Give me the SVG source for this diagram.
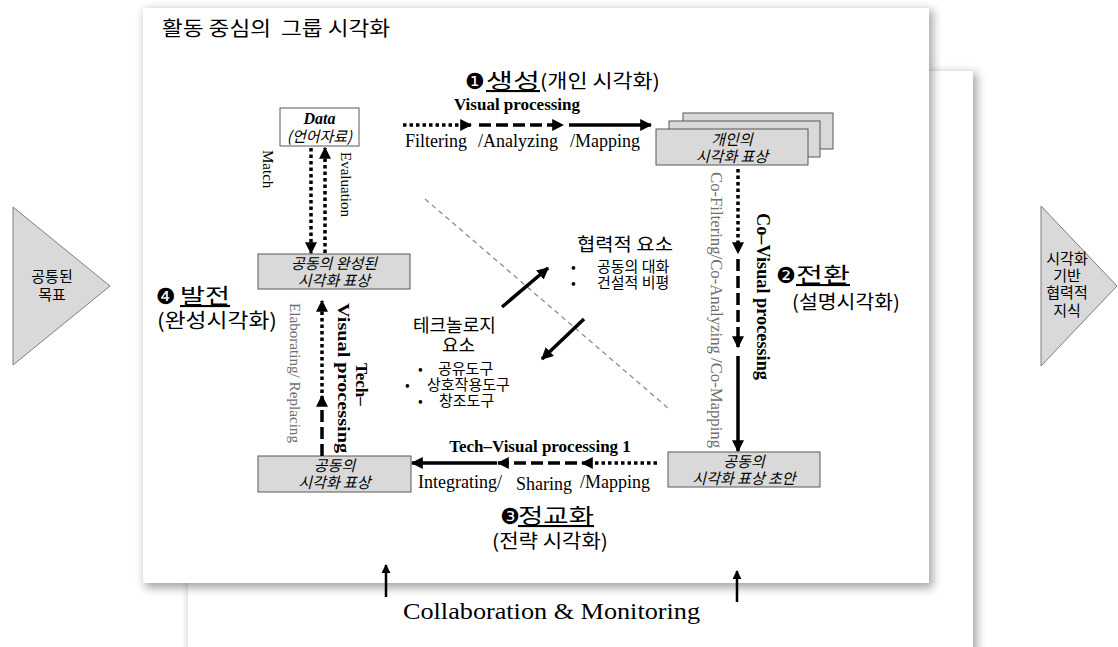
<svg xmlns="http://www.w3.org/2000/svg" width="1118" height="647" viewBox="0 0 1118 647">
<defs>
  <filter id="shadow" x="-5%" y="-5%" width="110%" height="110%">
    <feGaussianBlur stdDeviation="5"/>
  </filter>
  <marker id="ah" viewBox="0 0 10 10" refX="9" refY="5" markerWidth="12" markerHeight="12" markerUnits="userSpaceOnUse" orient="auto">
    <path d="M0,0 L10,5 L0,10 z" fill="#000"/>
  </marker>
  <marker id="ahs" viewBox="0 0 10 10" refX="9" refY="5" markerWidth="9" markerHeight="9" markerUnits="userSpaceOnUse" orient="auto">
    <path d="M0,0 L10,5 L0,10 z" fill="#000"/>
  </marker>
  <style>
    .panel { fill: #fff; }
    .pshadow { fill: #000; opacity: 0.35; filter: url(#shadow); }
    .tri { fill: #d9d9d9; stroke: #7f7f7f; stroke-width: 1; }
    .box { fill: #d9d9d9; stroke: #595959; stroke-width: 1; }
    .wbox { fill: #fff; stroke: #595959; stroke-width: 1; }
    .ln { stroke: #000; stroke-width: 3.5; fill: none; marker-end: url(#ah); }
    .dot { stroke-dasharray: 3.5 3; }
    .dash { stroke-dasharray: 12 5; }
    .thin { stroke: #000; stroke-width: 2.5; fill: none; marker-end: url(#ahs); }
    .kr { font-family: "Noto Sans CJK KR", sans-serif; fill: #000; }
    .kri { font-family: "Noto Sans CJK KR", sans-serif; font-style: italic; font-size: 15px; fill: #000; text-anchor: middle; }
    .num { font-family: "DejaVu Sans", "Noto Sans CJK KR", sans-serif; font-size: 22px; fill: #000; }
    .ser { font-family: "Liberation Serif", serif; fill: #000; }
    .serb { font-family: "Liberation Serif", serif; font-weight: bold; fill: #000; }
    .grey { fill: #6e6e6e; }
  </style>
</defs>

<!-- background sheets -->
<rect class="pshadow" x="190" y="73" width="787" height="600"/>
<rect class="panel" x="188" y="71" width="785" height="600"/>
<rect class="pshadow" x="145" y="10" width="788" height="578"/>
<rect class="panel" x="143" y="8" width="786" height="575"/>

<!-- side triangles -->
<g id="goal">
  <polygon class="tri" points="13,207 110,286 13,365"/>
  <text class="kr" font-size="15" text-anchor="middle"><tspan x="52" y="282">공통된</tspan><tspan x="52" y="300">목표</tspan></text>
</g>
<g id="knowledge">
  <polygon class="tri" points="1041,206 1117,286 1041,366"/>
  <text class="kr" font-size="15" text-anchor="middle"><tspan x="1067" y="264">시각화</tspan><tspan x="1067" y="281">기반</tspan><tspan x="1067" y="298">협력적</tspan><tspan x="1067" y="316">지식</tspan></text>
</g>

<!-- title -->
<text id="title" class="kr" x="162" y="36" font-size="20" textLength="228" lengthAdjust="spacingAndGlyphs" xml:space="preserve">활동 중심의  그룹 시각화</text>

<!-- nodes -->
<g id="data">
  <rect class="wbox" x="280" y="108" width="79" height="38"/>
  <text class="serb" x="319.5" y="124" font-size="16" font-style="italic" text-anchor="middle">Data</text>
  <text class="kri" x="319.5" y="142" font-size="14">(언어자료)</text>
</g>

<g id="individual">
  <rect class="box" x="683" y="113" width="150" height="36"/>
  <rect class="box" x="669" y="121" width="151" height="36"/>
  <rect class="box" x="656" y="129" width="152" height="36"/>
  <text class="kri"><tspan x="732" y="145">개인의</tspan><tspan x="732" y="162">시각화 표상</tspan></text>
</g>

<g id="draft">
  <rect class="box" x="668" y="452" width="152" height="35"/>
  <text class="kri"><tspan x="744" y="467">공동의</tspan><tspan x="744" y="484">시각화 표상 초안</tspan></text>
</g>

<g id="shared">
  <rect class="box" x="258" y="456" width="153" height="36"/>
  <text class="kri"><tspan x="334.5" y="471">공동의</tspan><tspan x="334.5" y="488">시각화 표상</tspan></text>
</g>

<g id="complete">
  <rect class="box" x="258" y="254" width="152" height="35"/>
  <text class="kri"><tspan x="334" y="269">공동의 완성된</tspan><tspan x="334" y="286">시각화 표상</tspan></text>
</g>

<!-- stage labels -->
<g id="stage1">
  <text class="num" x="465" y="89">❶</text>
  <text class="kr" x="486" y="88" font-size="21" text-decoration="underline" textLength="54" lengthAdjust="spacingAndGlyphs">생성</text>
  <text class="kr" x="540" y="88" font-size="19" textLength="120" lengthAdjust="spacingAndGlyphs">(개인 시각화)</text>
</g>
<g id="stage2">
  <text class="num" x="776" y="283">❷</text>
  <text class="kr" x="796" y="282" font-size="21" text-decoration="underline" textLength="54" lengthAdjust="spacingAndGlyphs">전환</text>
  <text class="kr" x="792" y="309" font-size="19" textLength="108" lengthAdjust="spacingAndGlyphs">(설명시각화)</text>
</g>
<g id="stage3">
  <text class="num" x="500" y="524">❸</text>
  <text class="kr" x="518" y="523" font-size="21" text-decoration="underline" textLength="76" lengthAdjust="spacingAndGlyphs">정교화</text>
  <text class="kr" x="492" y="548" font-size="19" textLength="116" lengthAdjust="spacingAndGlyphs">(전략 시각화)</text>
</g>
<g id="stage4">
  <text class="num" x="156" y="304">❹</text>
  <text class="kr" x="180" y="303" font-size="21" text-decoration="underline" textLength="50" lengthAdjust="spacingAndGlyphs">발전</text>
  <text class="kr" x="157" y="328" font-size="20" textLength="120" lengthAdjust="spacingAndGlyphs">(완성시각화)</text>
</g>

<!-- central elements -->
<g id="collab">
  <text class="kr" x="577" y="251" font-size="18" textLength="96" lengthAdjust="spacingAndGlyphs">협력적 요소</text>
  <text class="kr" font-size="15">
    <tspan x="571" y="272" font-size="14">•</tspan><tspan x="597" y="272">공동의 대화</tspan>
    <tspan x="571" y="288" font-size="14">•</tspan><tspan x="597" y="288">건설적 비평</tspan>
  </text>
</g>
<g id="tech">
  <text class="kr" font-size="18"><tspan x="413" y="332">테크놀로지</tspan><tspan x="442" y="352">요소</tspan></text>
  <text class="kr" font-size="15">
    <tspan x="418" y="374" font-size="14">•</tspan><tspan x="438" y="374">공유도구</tspan>
    <tspan x="405" y="390" font-size="14">•</tspan><tspan x="427" y="390">상호작용도구</tspan>
    <tspan x="418" y="406" font-size="14">•</tspan><tspan x="439" y="406">창조도구</tspan>
  </text>
</g>

<!-- connectors -->
<g id="connectors">
  <!-- divider -->
  <line x1="425" y1="199" x2="668" y2="408" stroke="#8c8c8c" stroke-width="1.3" stroke-dasharray="5 4"/>

  <!-- individual visual processing -->
  <line class="ln dot" x1="403" y1="125" x2="471" y2="125"/>
  <line class="ln dash" x1="479" y1="125" x2="563" y2="125"/>
  <line class="ln" x1="569" y1="125" x2="651" y2="125"/>

  <!-- co-visual processing -->
  <line class="ln dot" x1="738" y1="169" x2="738" y2="253"/>
  <line class="ln dash" x1="738" y1="259" x2="738" y2="347"/>
  <line class="ln" x1="738" y1="356" x2="738" y2="451"/>

  <!-- tech-visual processing 1 -->
  <line class="ln dot" x1="657" y1="463" x2="582" y2="463"/>
  <line class="ln dash" x1="577" y1="463" x2="498" y2="463"/>
  <line class="ln" x1="497" y1="463" x2="412" y2="463"/>

  <!-- tech-visual processing (upward) -->
  <line class="ln dash" x1="322" y1="456" x2="322" y2="396"/>
  <line class="ln dot" x1="322" y1="393" x2="322" y2="301"/>

  <!-- match / evaluation -->
  <line class="ln dot" x1="311" y1="148" x2="311" y2="253"/>
  <line class="ln dot" x1="325" y1="253" x2="325" y2="148"/>

  <!-- between element groups -->
  <line class="ln" x1="502" y1="307" x2="548" y2="268"/>
  <line class="ln" x1="584" y1="319" x2="542" y2="359"/>

  <!-- monitoring -->
  <line class="thin" x1="386" y1="597" x2="386" y2="565"/>
  <line class="thin" x1="737" y1="602" x2="737" y2="571"/>
</g>

<!-- connector labels -->
<g id="labels">
  <text class="serb" x="517" y="110" font-size="17" text-anchor="middle">Visual processing</text>
  <text class="ser" x="405" y="147" font-size="18">Filtering</text>
  <text class="ser" x="478" y="147" font-size="18">/Analyzing</text>
  <text class="ser" x="570" y="147" font-size="18">/Mapping</text>

  <text class="ser grey" transform="translate(711,172) rotate(90)" font-size="16" textLength="276" lengthAdjust="spacingAndGlyphs">Co-Filtering/Co-Analyzing /Co-Mapping</text>
  <text class="serb" transform="translate(757,213) rotate(90)" font-size="18" textLength="167" lengthAdjust="spacingAndGlyphs">Co–Visual processing</text>

  <text class="serb" x="540" y="452" font-size="17" text-anchor="middle">Tech–Visual processing 1</text>
  <text class="ser" x="418" y="488" font-size="18">Integrating/</text>
  <text class="ser" x="516" y="490" font-size="18">Sharing</text>
  <text class="ser" x="580" y="488" font-size="18">/Mapping</text>

  <text class="ser grey" transform="translate(290,303) rotate(90)" font-size="15" textLength="140" lengthAdjust="spacingAndGlyphs">Elaborating/ Replacing</text>
  <text class="serb" transform="translate(356,363) rotate(90)" font-size="17">Tech–</text>
  <text class="serb" transform="translate(338,303) rotate(90)" font-size="17" textLength="150" lengthAdjust="spacingAndGlyphs">Visual processing</text>

  <text class="ser" transform="translate(263,150) rotate(90)" font-size="15">Match</text>
  <text class="ser" transform="translate(341,152) rotate(90)" font-size="15">Evaluation</text>

  <text class="ser" x="403" y="619" font-size="23" textLength="297" lengthAdjust="spacingAndGlyphs">Collaboration &amp; Monitoring</text>
</g>
</svg>
